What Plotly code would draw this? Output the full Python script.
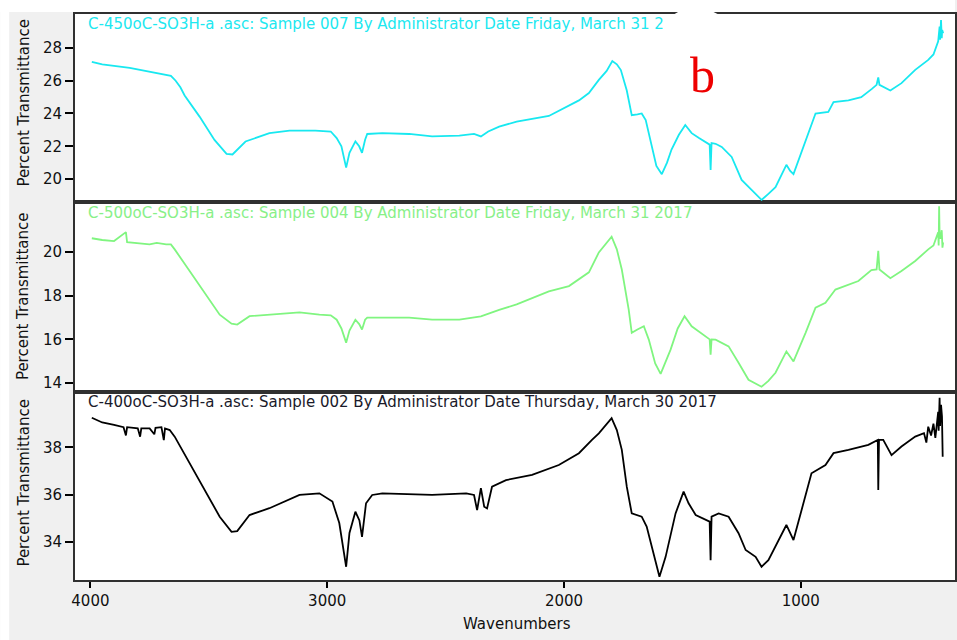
import plotly.graph_objects as go

# ---------------- data ----------------
tick_x = [4000, 3000, 2000, 1000]
ticks_top = [20, 22, 24, 26, 28]
ticks_mid = [14, 16, 18, 20]
ticks_bot = [34, 36, 38]

# the end of the first title is hidden under the white label patch in the picture
titles = [
    "C-450oC-SO3H-a .asc: Sample 007 By Administrator Date Friday, March 31 2",
    "C-500oC-SO3H-a .asc: Sample 004 By Administrator Date Friday, March 31 2017",
    "C-400oC-SO3H-a .asc: Sample 002 By Administrator Date Thursday, March 30 2017",
]
panel_letter = "b"

w450 = [3994, 3950, 3834, 3750, 3680, 3660, 3640, 3620, 3602, 3539, 3476, 3425, 3400, 3345, 3244,
        3159, 3050, 2985, 2960, 2940, 2920, 2906, 2881, 2865, 2853, 2840, 2831, 2767, 2654,
        2557, 2442, 2380, 2351, 2320, 2274, 2200, 2064, 1979, 1937, 1895, 1853, 1820, 1796,
        1777, 1760, 1735, 1714, 1690, 1672, 1655, 1630, 1610, 1587, 1565, 1546, 1515, 1488,
        1461, 1430, 1402, 1385, 1381, 1377, 1360, 1334, 1292, 1250, 1208, 1166, 1137, 1107,
        1061, 1045, 1031, 980, 938, 884, 862, 799, 745, 700, 680, 673, 668, 622, 575, 517,
        462, 440, 432, 420, 414, 412, 408, 405, 403, 399]
t450 = [27.15, 27.0, 26.78, 26.55, 26.35, 26.3, 26.0, 25.6, 25.1, 23.81, 22.39, 21.54, 21.5, 22.29, 22.8,
        22.95, 22.95, 22.9, 22.5, 22.0, 20.7, 21.6, 22.3, 22.0, 21.6, 22.4, 22.75, 22.8, 22.75,
        22.6, 22.65, 22.75, 22.6, 22.9, 23.2, 23.5, 23.85, 24.5, 24.8, 25.25, 26.05, 26.6, 27.2,
        27.0, 26.65, 25.4, 23.9, 23.95, 24.0, 23.6, 21.96, 20.8, 20.3, 21.0, 21.8, 22.7, 23.3,
        22.8, 22.5, 22.27, 22.1, 20.56, 22.2, 22.15, 21.96, 21.35, 19.95, 19.34, 18.73, 19.1, 19.5,
        20.87, 20.5, 20.3, 22.4, 24.0, 24.1, 24.7, 24.8, 25.0, 25.5, 25.75, 26.2, 25.75, 25.4, 25.85, 26.66,
        27.27, 27.6, 27.9, 28.4, 29.3, 28.5, 29.7, 28.6, 29.1, 28.9]

w500 = [3994, 3950, 3900, 3850, 3845, 3800, 3750, 3720, 3680, 3660, 3644, 3581, 3518, 3454,
        3404, 3380, 3328, 3244, 3117, 3033, 2985, 2960, 2940, 2920, 2906, 2881, 2865, 2853,
        2840, 2831, 2767, 2654, 2557, 2442, 2351, 2274, 2200, 2064, 1979, 1937, 1895, 1853,
        1820, 1799, 1777, 1756, 1727, 1714, 1690, 1663, 1642, 1615, 1592, 1570, 1550, 1520,
        1491, 1461, 1430, 1402, 1385, 1381, 1377, 1360, 1305, 1263, 1221, 1166, 1137, 1107,
        1061, 1045, 1031, 980, 938, 896, 854, 757, 702, 680, 673, 668, 622, 575, 517, 462,
        440, 420, 418, 416, 414, 410, 405, 402, 399]
t500 = [20.63, 20.55, 20.5, 20.91, 20.45, 20.4, 20.35, 20.42, 20.35, 20.35, 20.12, 19.13, 18.13, 17.13,
        16.72, 16.68, 17.06, 17.13, 17.24, 17.13, 17.1, 16.9, 16.5, 15.85, 16.4, 16.9, 16.7, 16.45,
        16.9, 17.0, 17.0, 17.0, 16.9, 16.9, 17.05, 17.35, 17.6, 18.2, 18.44, 18.75, 19.07, 19.98,
        20.45, 20.7, 20.12, 19.2, 17.37, 16.3, 16.45, 16.6, 15.99, 14.9, 14.42, 15.0, 15.53, 16.5,
        17.06, 16.6, 16.35, 16.14, 16.0, 15.3, 16.0, 15.99, 15.68, 14.93, 14.15, 13.83, 14.1, 14.47,
        15.45, 15.2, 14.99, 16.3, 17.45, 17.68, 18.28, 18.67, 19.17, 19.2, 20.05, 19.2, 18.8, 19.13, 19.59, 20.12,
        20.3, 20.9, 20.3, 22.1, 20.8, 20.6, 21.0, 20.2, 20.44]

w400 = [3994, 3950, 3900, 3860, 3850, 3845, 3800, 3790, 3785, 3750, 3730, 3725, 3700, 3690,
        3685, 3665, 3644, 3581, 3518, 3454, 3404, 3380, 3328, 3244, 3117, 3033, 2978, 2949,
        2920, 2906, 2881, 2864, 2853, 2836, 2810, 2767, 2557, 2413, 2380, 2367, 2351, 2337,
        2325, 2304, 2245, 2135, 2022, 1937, 1882, 1853, 1799, 1777, 1756, 1735, 1714, 1672,
        1651, 1630, 1597, 1571, 1529, 1495, 1474, 1444, 1402, 1385, 1381, 1377, 1347, 1305,
        1263, 1233, 1191, 1166, 1137, 1094, 1061, 1031, 997, 955, 896, 862, 799, 715, 675,
        673, 670, 652, 617, 575, 517, 480, 470, 462, 450, 440, 432, 425, 420, 418, 414, 412,
        408, 404, 401]
t400 = [39.25, 39.05, 38.95, 38.85, 38.5, 38.85, 38.8, 38.45, 38.8, 38.8, 38.55, 38.82, 38.85, 38.3,
        38.8, 38.73, 38.45, 37.32, 36.19, 35.06, 34.42, 34.45, 35.13, 35.42, 35.98, 36.05, 35.7, 34.79,
        32.94, 34.37, 35.27, 34.9, 34.21, 35.63, 35.98, 36.05, 35.98, 36.05, 35.98, 35.34, 36.27, 35.48,
        35.41, 36.33, 36.61, 36.83, 37.25, 37.75, 38.31, 38.59, 39.23, 38.73, 37.89, 36.33, 35.2, 35.06,
        34.64, 33.79, 32.52, 33.36, 35.2, 36.12, 35.63, 35.13, 34.92, 34.85, 33.22, 35.06, 35.2, 35.06,
        34.36, 33.65, 33.36, 32.94, 33.22, 34.07, 34.71, 34.07, 35.34, 36.9, 37.25, 37.75, 37.89, 38.1, 38.31,
        36.19, 38.31, 38.31, 37.67, 38.03, 38.45, 38.6, 38.2, 38.87, 38.5, 39.0, 38.4, 39.2, 39.5, 38.7, 40.1, 38.9,
        39.8, 39.3, 37.6]

# ---------------- layout geometry (pixels) ----------------
W, H = 957, 640
L, R, T, B = 75, 957, 14, 580


def px_x(x):
    return (x - L) / (R - L)


def px_y(y):
    return (B - y) / (B - T)


xr = [4065, 349]
font_tick = dict(family="DejaVu Sans", size=15, color="#111111")

fig = go.Figure()
fig.add_trace(go.Scatter(x=w450, y=t450, mode="lines", line=dict(color="#18e8f0", width=1.8),
                         xaxis="x3", yaxis="y3", showlegend=False, hoverinfo="skip"))
fig.add_trace(go.Scatter(x=w500, y=t500, mode="lines", line=dict(color="#80f580", width=1.8),
                         xaxis="x2", yaxis="y2", showlegend=False, hoverinfo="skip"))
fig.add_trace(go.Scatter(x=w400, y=t400, mode="lines", line=dict(color="#000000", width=1.8),
                         xaxis="x", yaxis="y", showlegend=False, hoverinfo="skip"))

axline = dict(showline=True, linecolor="#303030", linewidth=2, mirror=True, showgrid=False, zeroline=False)

fig.update_layout(
    width=W, height=H,
    margin=dict(l=L, r=W - R, t=T, b=H - B),
    paper_bgcolor="#f0f0f0", plot_bgcolor="white",
    xaxis=dict(range=xr, domain=[0, 1], anchor="y", tickvals=tick_x, ticks="outside", ticklen=6,
               tickwidth=1.5, tickcolor="#000", tickfont=font_tick, **axline),
    xaxis2=dict(range=xr, domain=[0, 1], anchor="y2", showticklabels=False, ticks="", **axline),
    xaxis3=dict(range=xr, domain=[0, 1], anchor="y3", showticklabels=False, ticks="", **axline),
    yaxis=dict(range=[32.38, 40.34], domain=[0, px_y(392)], tickvals=ticks_bot, ticks="outside",
               ticklen=8, tickwidth=1.5, tickcolor="#000", tickfont=font_tick, **axline),
    yaxis2=dict(range=[13.59, 22.29], domain=[px_y(392), px_y(202)], tickvals=ticks_mid, ticks="outside",
                ticklen=8, tickwidth=1.5, tickcolor="#000", tickfont=font_tick, **axline),
    yaxis3=dict(range=[18.6, 30.07], domain=[px_y(202), 1], tickvals=ticks_top, ticks="outside",
                ticklen=8, tickwidth=1.5, tickcolor="#000", tickfont=font_tick, **axline),
)

# white margins of the screenshot (top strip and left strip)
fig.add_shape(type="rect", xref="paper", yref="paper", x0=px_x(0), x1=px_x(W), y0=px_y(12), y1=px_y(0),
              fillcolor="white", line_width=0, layer="below")
fig.add_shape(type="rect", xref="paper", yref="paper", x0=px_x(0), x1=px_x(9), y0=px_y(H), y1=px_y(0),
              fillcolor="white", line_width=0, layer="below")

title_colors = ["#20e8f0", "#88f088", "#1a1a2a"]
title_ys = [24, 213, 402]
for txt, col, ty in zip(titles, title_colors, title_ys):
    fig.add_annotation(text=txt, xref="paper", yref="paper", x=px_x(86), y=px_y(ty),
                       xanchor="left", yanchor="middle", showarrow=False,
                       font=dict(family="DejaVu Sans", size=15, color=col))

for cy in [102.5, 296, 482.5]:
    fig.add_annotation(text="Percent Transmittance", xref="paper", yref="paper", x=px_x(23), y=px_y(cy),
                       xanchor="center", yanchor="middle", textangle=-90, showarrow=False,
                       font=dict(family="DejaVu Sans", size=15, color="#111111"))

fig.add_annotation(text="Wavenumbers", xref="paper", yref="paper", x=px_x(518), y=px_y(624),
                   xanchor="center", yanchor="middle", showarrow=False,
                   font=dict(family="DejaVu Sans", size=15, color="#111111"))

# white patch over the top border, with the red panel letter
pts = [(672, 70), (672, 24), (676, 14), (682, 10.5), (712, 10.5), (719, 14), (724, 22), (735, 30), (735, 70)]
blob = "M " + " L ".join("{:.5f},{:.5f}".format(px_x(a), px_y(b)) for a, b in pts) + " Z"
fig.add_shape(type="path", xref="paper", yref="paper", path=blob, fillcolor="white",
              line_width=0, layer="above")
fig.add_annotation(text=panel_letter, xref="paper", yref="paper", x=px_x(704), y=px_y(75),
                   xanchor="center", yanchor="middle", showarrow=False,
                   font=dict(family="Liberation Serif", size=50, color="#ee0000"))

fig.write_html("out.html")
